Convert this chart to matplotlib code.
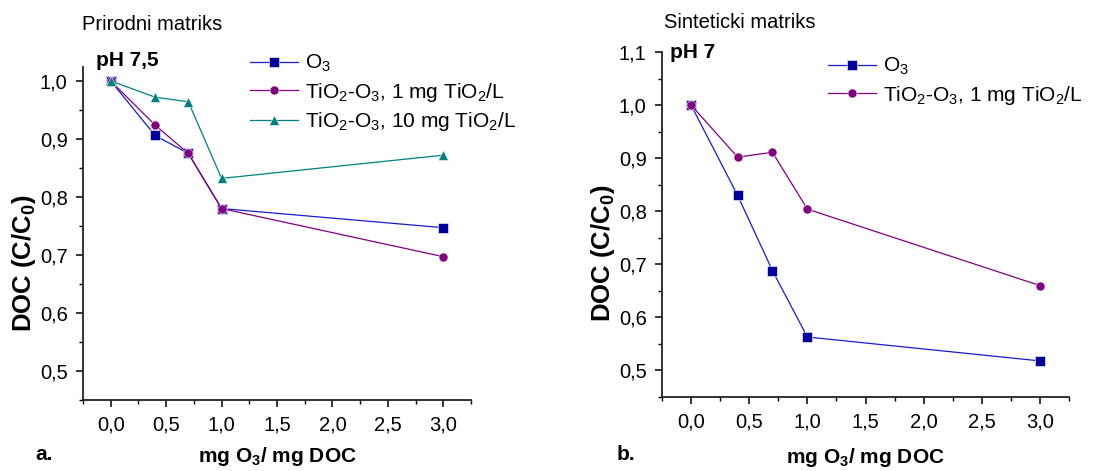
import matplotlib
matplotlib.use('Agg')
import matplotlib.pyplot as plt
from matplotlib.ticker import MultipleLocator, FuncFormatter

plt.rcParams['font.family'] = ['Liberation Sans', 'DejaVu Sans']
plt.rcParams['mathtext.fontset'] = 'custom'
plt.rcParams['mathtext.rm'] = 'Liberation Sans'
plt.rcParams['mathtext.it'] = 'Liberation Sans'
plt.rcParams['mathtext.bf'] = 'Liberation Sans:bold'

# ozone dose, mg O3 / mg DOC
dose = [0.0, 0.4, 0.7, 1.0, 3.0]

# a. natural matrix, pH 7.5
nat_o3 = [1.0, 0.906, 0.875, 0.780, 0.747]
nat_tio2_1 = [1.0, 0.924, 0.875, 0.780, 0.697]
nat_tio2_10 = [1.0, 0.972, 0.964, 0.832, 0.872]

# b. synthetic matrix, pH 7
syn_o3 = [1.0, 0.830, 0.688, 0.563, 0.518]
syn_tio2_1 = [1.0, 0.902, 0.911, 0.804, 0.660]

lbl_o3 = 'O$_3$'
lbl_1 = 'TiO$_2$-O$_3$, 1 mg TiO$_2$/L'
lbl_10 = 'TiO$_2$-O$_3$, 10 mg TiO$_2$/L'

BLUE_LINE = '#1a1ad0'
BLUE = '#00009c'
PURPLE = '#800080'
TEAL = '#008080'

W, H = 1094, 471
comma = FuncFormatter(lambda v, p: ('%.1f' % v).replace('.', ','))


def style_axes(ax, ymax, xlab_y, ylab_xy):
    ax.set_xlim(-0.25, 3.25)
    ax.set_ylim(0.45, ymax)
    for s in ['top', 'right']:
        ax.spines[s].set_visible(False)
    for s in ['left', 'bottom']:
        ax.spines[s].set_linewidth(1.3)
        ax.spines[s].set_color('#222222')
    ax.xaxis.set_major_locator(MultipleLocator(0.5))
    ax.xaxis.set_minor_locator(MultipleLocator(0.25))
    ax.yaxis.set_major_locator(MultipleLocator(0.1))
    ax.yaxis.set_minor_locator(MultipleLocator(0.05))
    ax.xaxis.set_major_formatter(comma)
    ax.yaxis.set_major_formatter(comma)
    ax.tick_params(which='major', direction='out', length=5, width=1.1,
                   labelsize=14.5, pad=6)
    ax.tick_params(which='minor', direction='out', length=3, width=1.0)
    ax.set_xlabel('mg O$_\\mathbf{3}$/ mg DOC', fontsize=15,
                  fontweight='bold', va='center')
    ax.xaxis.set_label_coords(0.5, xlab_y)
    ax.set_ylabel('DOC (C/C$_\\mathbf{0}$)', fontsize=18.5,
                  fontweight='bold', va='center')
    ax.yaxis.set_label_coords(*ylab_xy)


fig = plt.figure(figsize=(W / 100, H / 100), dpi=100)
ax1 = fig.add_axes([83 / W, 1 - 400 / H, 388 / W, 333 / H])
ax2 = fig.add_axes([662 / W, 1 - 397 / H, 407 / W, 345 / H])

kw = dict(lw=0.9, ms=6.5, mec='white', mew=0.4)
ax1.plot(dose, nat_o3, '-s', color=BLUE_LINE, mfc=BLUE, label=lbl_o3, **kw)
ax1.plot(dose, nat_tio2_1, '-o', color=PURPLE, label=lbl_1, **kw)
ax1.plot(dose, nat_tio2_10, '-^', color=TEAL, label=lbl_10, **kw)
style_axes(ax1, 1.024, -0.171, (-0.152, 0.411))

ax2.plot(dose, syn_o3, '-s', color=BLUE_LINE, mfc=BLUE, label=lbl_o3, **kw)
ax2.plot(dose, syn_tio2_1, '-o', color=PURPLE, label=lbl_1, **kw)
style_axes(ax2, 1.1, -0.174, (-0.146, 0.417))

leg_kw = dict(loc='upper left', frameon=False, fontsize=15,
              handlelength=2.3, handletextpad=0.35, labelspacing=0.3,
              borderpad=0, borderaxespad=0, bbox_transform=fig.transFigure)
ax1.legend(bbox_to_anchor=(250 / W, 1 - 53 / H), **leg_kw)
ax2.legend(bbox_to_anchor=(828 / W, 1 - 56 / H), **leg_kw)

fig.text(82 / W, 1 - 25 / H, 'Prirodni matriks', fontsize=14.5,
         va='center', ha='left')
fig.text(664 / W, 1 - 22 / H, 'Sinteticki matriks', fontsize=14.5,
         va='center', ha='left')
fig.text(96 / W, 1 - 60 / H, 'pH 7,5', fontsize=15,
         fontweight='bold', va='center', ha='left')
fig.text(670 / W, 1 - 52 / H, 'pH 7', fontsize=15,
         fontweight='bold', va='center', ha='left')
fig.text(35 / W, 1 - 455 / H, 'a.', fontsize=15,
         fontweight='bold', va='center', ha='left')
fig.text(617 / W, 1 - 455 / H, 'b.', fontsize=15,
         fontweight='bold', va='center', ha='left')

fig.savefig('out.png', dpi=100)
